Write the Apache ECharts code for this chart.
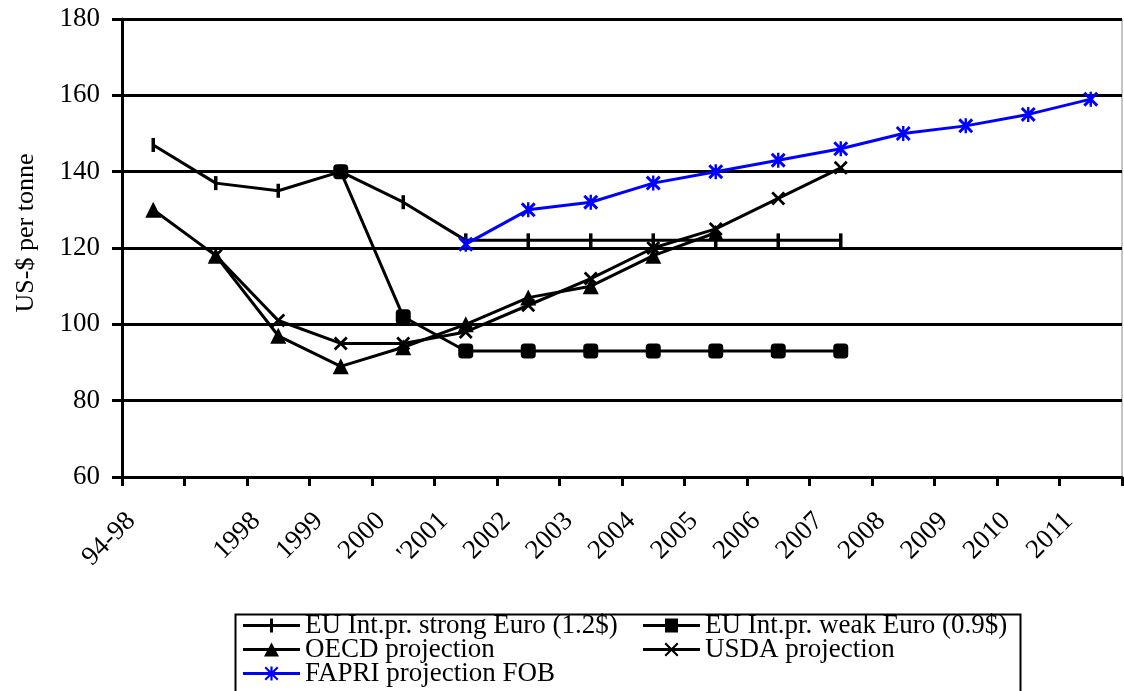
<!DOCTYPE html>
<html>
<head>
<meta charset="utf-8">
<script src="https://cdn.jsdelivr.net/npm/echarts@6/dist/echarts.min.js"></script>
<style>html,body{margin:0;padding:0;background:#fff;}#c{width:1124px;height:691px;}</style>
</head>
<body>
<div id="c"></div>
<script>
const categories = ['94-98', '', '1998', '1999', '2000', "'2001", '2002', '2003', '2004', '2005', '2006', '2007', '2008', '2009', '2010', '2011'];
const strongEuro = [147, 137, 135, 140, 132, 122, 122, 122, 122, 122, 122, 122, null, null, null, null];
const weakEuro = [null, null, null, 140, 102, 93, 93, 93, 93, 93, 93, 93, null, null, null, null];
const oecd = [130, 118, 97, 89, 94, 100, 107, 110, 118, 124, null, null, null, null, null, null];
const usda = [null, 118, 101, 95, 95, 98, 105, 112, 120, 125, 133, 141, null, null, null, null];
const fapri = [null, null, null, null, null, 121, 130, 132, 137, 140, 143, 146, 150, 152, 155, 159];
const seriesNames = ['EU Int.pr. strong Euro (1.2$)', 'EU Int.pr. weak Euro (0.9$)', 'OECD projection', 'USDA projection', 'FAPRI projection FOB'];
const yTicks = {min: 60, max: 180, interval: 20};

const FONT = 'Liberation Serif';
const xPath = 'path://M0,1.4L1.4,0L5,3.6L8.6,0L10,1.4L6.4,5L10,8.6L8.6,10L5,6.4L1.4,10L0,8.6L3.6,5Z';
const starPath = 'path://M0,1.4L1.4,0L5,3.6L8.6,0L10,1.4L6.4,5L10,8.6L8.6,10L5,6.4L1.4,10L0,8.6L3.6,5Z M4.2,0L5.8,0L5.8,10L4.2,10Z';

// legend icons: 57 x 14 box, line + marker
const LINE = 'M0,5.5L57,5.5L57,8.5L0,8.5Z';
const iconStrong = 'path://' + LINE + ' M27,0L30,0L30,14L27,14Z';
const iconWeak = 'path://' + LINE + ' M22,0L35,0L35,14L22,14Z';
const iconTri = 'path://' + LINE + ' M28.5,0L36,14L21,14Z';
const iconX = 'path://' + LINE + ' M21.5,1.4L23,0L28.5,5.5L34,0L35.5,1.4L30,7L35.5,12.6L34,14L28.5,8.5L23,14L21.5,12.6L27,7Z';
const iconStar = 'path://' + LINE + ' M21.5,1.4L23,0L28.5,5.5L34,0L35.5,1.4L30,7L35.5,12.6L34,14L28.5,8.5L23,14L21.5,12.6L27,7Z M27.4,0L29.6,0L29.6,14L27.4,14Z';

function mk(name, data, color, symbol, size) {
  return {
    name, type: 'line', data, connectNulls: false,
    symbol, symbolSize: size,
    showAllSymbol: true,
    lineStyle: {color, width: 3},
    itemStyle: {color, borderWidth: 0},
    emphasis: {disabled: true},
    animation: false
  };
}
function lg(name, icon, left, top) {
  return {
    left, top, itemWidth: 57, itemHeight: 14, itemGap: 0, padding: 0,
    data: [{name, icon}], symbolKeepAspect: false,
    textStyle: {fontFamily: FONT, fontSize: 27, color: '#000'},
    selectedMode: false
  };
}

const chart = echarts.init(document.getElementById('c'), null, {renderer: 'canvas'});
chart.setOption({
  backgroundColor: '#fff',
  animation: false,
  grid: {left: 122, right: 2, top: 19, bottom: 214, show: true, borderColor: '#888', borderWidth: 1},
  xAxis: {
    type: 'category', data: categories, boundaryGap: true,
    axisLine: {lineStyle: {color: '#000', width: 3}},
    axisTick: {show: true, alignWithLabel: false, interval: 0, length: 9, lineStyle: {color: '#000', width: 3}},
    axisLabel: {interval: 0, rotate: 45, margin: 18, padding: [0, 31, 0, 0], fontFamily: FONT, fontSize: 27, color: '#000'},
    splitLine: {show: false}
  },
  yAxis: {
    type: 'value', min: yTicks.min, max: yTicks.max, interval: yTicks.interval,
    name: 'US-$ per tonne', nameLocation: 'middle', nameGap: 83, nameRotate: 90,
    nameTextStyle: {fontFamily: FONT, fontSize: 26, color: '#000', padding: [0, 0, 0, 30]},
    axisLine: {show: true, lineStyle: {color: '#000', width: 3}},
    axisTick: {show: true, length: 10, lineStyle: {color: '#000', width: 3}},
    axisLabel: {margin: 22, fontFamily: FONT, fontSize: 27, color: '#000'},
    splitLine: {show: true, lineStyle: {color: '#000', width: 3}}
  },
  legend: [
    lg(seriesNames[0], iconStrong, 243, 612),
    lg(seriesNames[1], iconWeak, 643, 612),
    lg(seriesNames[2], iconTri, 243, 636),
    lg(seriesNames[3], iconX, 643, 636),
    lg(seriesNames[4], iconStar, 243, 660)
  ],
  graphic: [{
    type: 'rect', left: 233, top: 612, shape: {width: 785, height: 90},
    style: {fill: 'none', stroke: '#000', lineWidth: 2}, silent: true, z: -1
  }],
  series: [
    mk(seriesNames[0], strongEuro, '#000', 'rect', [3.5, 14]),
    mk(seriesNames[1], weakEuro, '#000', 'roundRect', 15),
    mk(seriesNames[2], oecd, '#000', 'triangle', 16),
    mk(seriesNames[3], usda, '#000', xPath, 14),
    mk(seriesNames[4], fapri, '#0000ff', starPath, 15)
  ]
});
</script>
</body>
</html>
